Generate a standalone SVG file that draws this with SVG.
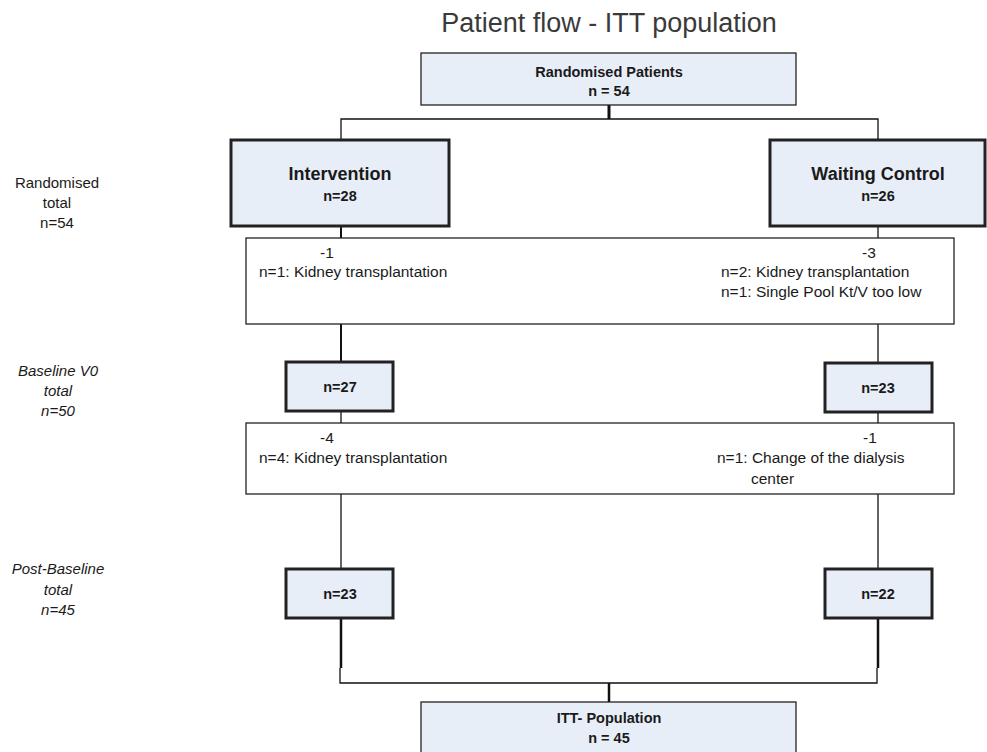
<svg xmlns="http://www.w3.org/2000/svg" width="987" height="752" viewBox="0 0 987 752">
<style>
  text { font-family: "Liberation Sans", Arial, sans-serif; fill: #1a1a1a; }
  .title { font-size: 27px; fill: #3a3a3a; text-anchor: middle; }
  .hb { font-size: 14.5px; font-weight: bold; text-anchor: middle; }
  .big { font-size: 18px; font-weight: bold; text-anchor: middle; }
  .nb { font-size: 14.5px; font-weight: bold; text-anchor: middle; }
  .t { font-size: 15.5px; }
  .side { font-size: 15px; text-anchor: middle; }
  .it { font-style: italic; }
  .blue { fill: #e8eef8; stroke: #222; }
  .thin { stroke-width: 1.3; }
  .thick { stroke-width: 3; }
  .plain { fill: #fff; stroke: #222; stroke-width: 1.3; }
  .c { stroke: #111; fill: none; }
</style>
<rect width="987" height="752" fill="#fff"/>
<text class="title" x="609" y="32">Patient flow - ITT population</text>

<g id="connectors">
  <line class="c" x1="609" y1="105" x2="609" y2="119" stroke-width="3"/>
  <polyline class="c" points="341,140 341,119 878,119 878,140" stroke-width="1.3"/>
  <line class="c" x1="341" y1="226" x2="341" y2="238" stroke-width="2"/>
  <line class="c" x1="878" y1="226" x2="878" y2="238" stroke-width="1.3"/>
  <line class="c" x1="341" y1="324" x2="341" y2="362" stroke-width="2"/>
  <line class="c" x1="878" y1="324" x2="878" y2="363" stroke-width="1.3"/>
  <line class="c" x1="341" y1="411" x2="341" y2="423" stroke-width="1.3"/>
  <line class="c" x1="878" y1="412" x2="878" y2="423" stroke-width="1.3"/>
  <line class="c" x1="341" y1="494" x2="341" y2="569" stroke-width="1.3"/>
  <line class="c" x1="878" y1="494" x2="878" y2="569" stroke-width="1.3"/>
  <line class="c" x1="341" y1="618" x2="341" y2="668" stroke-width="2.5"/>
  <line class="c" x1="878" y1="618" x2="878" y2="668" stroke-width="2.5"/>
  <polyline class="c" points="340,668 340,683 877,683 877,668" stroke-width="1.3"/>
  <line class="c" x1="609" y1="683" x2="609" y2="702" stroke-width="2.5"/>
</g>

<g id="randomised">
  <rect class="blue thin" x="421" y="53" width="375" height="52"/>
  <text class="hb" x="609" y="77">Randomised Patients</text>
  <text class="hb" x="609" y="96">n = 54</text>
</g>

<g id="intervention">
  <rect class="blue thick" x="231" y="140" width="218" height="86"/>
  <text class="big" x="340" y="180">Intervention</text>
  <text class="nb" x="340" y="201">n=28</text>
</g>

<g id="waiting">
  <rect class="blue thick" x="770" y="140" width="215" height="86"/>
  <text class="big" x="878" y="180">Waiting Control</text>
  <text class="nb" x="878" y="201">n=26</text>
</g>

<g id="excl1">
  <rect class="plain" x="246" y="238" width="708" height="86"/>
  <text class="t" x="320" y="258">-1</text>
  <text class="t" x="259" y="277">n=1: Kidney transplantation</text>
  <text class="t" x="862" y="258">-3</text>
  <text class="t" x="721" y="277">n=2: Kidney transplantation</text>
  <text class="t" x="721" y="297">n=1: Single Pool Kt/V too low</text>
</g>

<g id="baseline-int">
  <rect class="blue thick" x="286" y="362" width="107" height="49"/>
  <text class="nb" x="340" y="392">n=27</text>
</g>

<g id="baseline-wait">
  <rect class="blue thick" x="825" y="363" width="107" height="49"/>
  <text class="nb" x="878" y="393">n=23</text>
</g>

<g id="excl2">
  <rect class="plain" x="246" y="423" width="708" height="71"/>
  <text class="t" x="320" y="443">-4</text>
  <text class="t" x="259" y="463">n=4: Kidney transplantation</text>
  <text class="t" x="863" y="443">-1</text>
  <text class="t" x="717" y="463">n=1: Change of the dialysis</text>
  <text class="t" x="751" y="484">center</text>
</g>

<g id="post-int">
  <rect class="blue thick" x="286" y="569" width="107" height="49"/>
  <text class="nb" x="340" y="599">n=23</text>
</g>

<g id="post-wait">
  <rect class="blue thick" x="825" y="569" width="107" height="49"/>
  <text class="nb" x="878" y="599">n=22</text>
</g>

<g id="itt">
  <rect class="blue thin" x="421" y="702" width="375" height="60"/>
  <text class="hb" x="609" y="723">ITT- Population</text>
  <text class="hb" x="609" y="743">n = 45</text>
</g>

<g id="labels">
  <text class="side" x="57" y="188">Randomised</text>
  <text class="side" x="57" y="208">total</text>
  <text class="side" x="57" y="228">n=54</text>
  <text class="side it" x="58" y="376">Baseline V0</text>
  <text class="side it" x="58" y="396">total</text>
  <text class="side it" x="58" y="416">n=50</text>
  <text class="side it" x="58" y="574">Post-Baseline</text>
  <text class="side it" x="58" y="595">total</text>
  <text class="side it" x="58" y="615">n=45</text>
</g>
</svg>
